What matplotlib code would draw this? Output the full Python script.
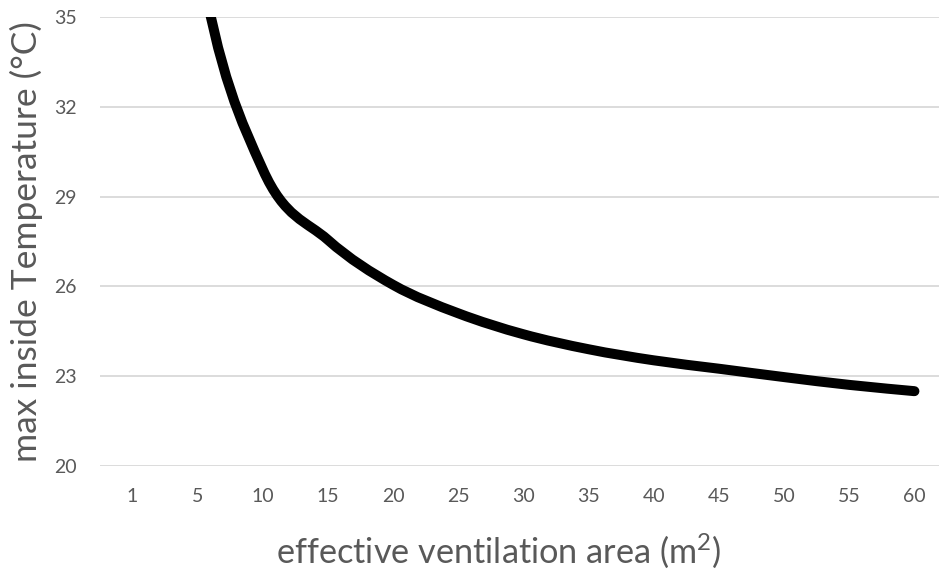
import numpy as np
import matplotlib
matplotlib.use("Agg")
import matplotlib.pyplot as plt
from matplotlib.path import Path
from matplotlib.patches import PathPatch

plt.rcParams['font.family'] = ['Lato', 'DejaVu Sans']
plt.rcParams['mathtext.fontset'] = 'custom'
plt.rcParams['mathtext.rm'] = 'Lato'

# data (value at 1 m2 is off the chart, estimated)
area_labels = ['1', '5', '10', '15', '20', '25', '30', '35', '40', '45', '50', '55', '60']
max_temp = [56.0, 37.3, 29.9, 27.55, 26.05, 25.1, 24.4, 23.9, 23.53, 23.25, 22.97, 22.71, 22.5]
y_ticks = [20, 23, 26, 29, 32, 35]

grey = '#595959'

fig = plt.figure(figsize=(9.39, 5.77), dpi=100)
ax = fig.add_axes([100/939, 111/577, 847/939, 449/577])

# excel style smoothed line: cubic bezier between points (catmull-rom)
xs = np.arange(len(max_temp), dtype=float)
ys = np.array(max_temp)
n = len(xs)
verts = [(xs[0], ys[0])]
codes = [Path.MOVETO]
for i in range(n - 1):
    i0 = max(i - 1, 0)
    i3 = min(i + 2, n - 1)
    c1 = (xs[i] + (xs[i+1] - xs[i0]) / 6, ys[i] + (ys[i+1] - ys[i0]) / 6)
    c2 = (xs[i+1] - (xs[i3] - xs[i]) / 6, ys[i+1] - (ys[i3] - ys[i]) / 6)
    verts += [c1, c2, (xs[i+1], ys[i+1])]
    codes += [Path.CURVE4] * 3
patch = PathPatch(Path(verts, codes), facecolor='none', edgecolor='black',
                  lw=7.2, capstyle='round', joinstyle='round', zorder=3)
ax.add_patch(patch)

ax.set_xlim(-0.5, n - 0.5)
ax.set_ylim(20, 35)
ax.set_xticks(xs)
ax.set_xticklabels(area_labels)
ax.set_yticks(y_ticks)
ax.grid(axis='y', color='#d9d9d9', lw=1.3)
ax.set_axisbelow(True)
for s in ax.spines.values():
    s.set_visible(False)
ax.tick_params(length=0, colors=grey, labelsize=14)
ax.tick_params(axis='y', pad=16.5)
ax.tick_params(axis='x', pad=16)

ax.set_xlabel('effective ventilation area (m$^{2}$)', fontsize=24.7, color=grey, va='center')
ax.set_ylabel('max inside Temperature (\u00b0C)', fontsize=25.5, color=grey, va='center')
ax.xaxis.set_label_coords((499 - 100) / 847, -(551 - 466) / 449)
ax.yaxis.set_label_coords((26 - 100) / 847, 0.5)

fig.savefig('out.png', dpi=100)
